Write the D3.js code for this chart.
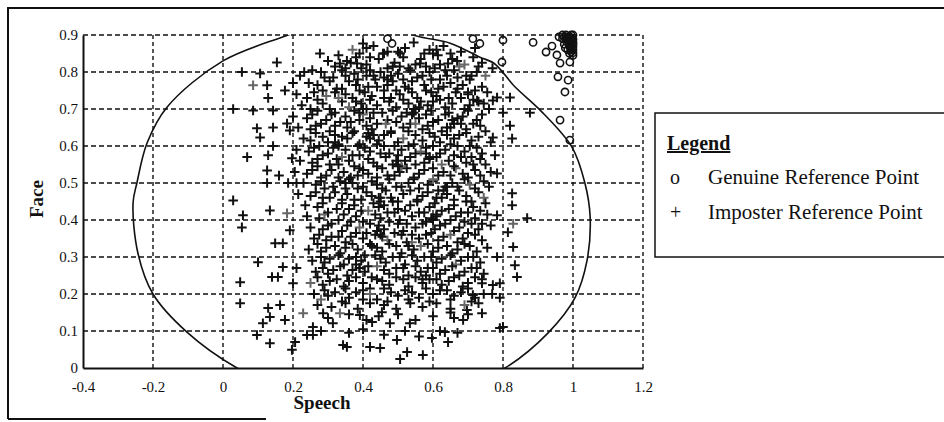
<!DOCTYPE html>
<html>
<head>
<meta charset="utf-8">
<script src="https://cdn.jsdelivr.net/npm/d3@7/dist/d3.min.js"></script>
<style>
body { margin: 0; background: #fff; }
text { font-family: "Liberation Serif", "Times New Roman", serif; fill: #111; }
</style>
</head>
<body>
<svg id="chart"></svg>
<script>
// tick values
var xTicks = [-0.4, -0.2, 0, 0.2, 0.4, 0.6, 0.8, 1, 1.2];
var yTicks = [0, 0.1, 0.2, 0.3, 0.4, 0.5, 0.6, 0.7, 0.8, 0.9];
var legendMarks = ["o", "+"];
var legendLabels = ["Genuine Reference Point", "Imposter Reference Point"];

// genuine reference points [speech, face]
var genuine = [
	[.47,.89],[.483,.877],[.714,.89],[.734,.877],[.80,.886],[.797,.827],[.886,.88],[.923,.854],
	[.94,.87],[.954,.846],[.963,.824],[.991,.827],[.957,.787],[.986,.778],[.977,.746],[.963,.67],
	[.991,.616],[1,.9],[.99,.895],[.98,.9],[.995,.885],[1,.875],[.985,.885],[.97,.89],[.99,.87],
	[1,.86],[.975,.875],[.985,.86],[1,.845],[.99,.85],[.96,.895],[.995,.865],[.978,.865],[1,.888],
	[.97,.9],[.975,.895],[.985,.895],[.995,.9],[.99,.885],[.98,.89],[1,.88],[.995,.875],[.99,.878],
	[1,.868],[.995,.855],[1,.852],[.993,.862],[.988,.892],[.982,.882],[.997,.892]
];

// imposter reference points [speech, face]
var imposter = [
	// sparse left / bottom / right / top edges
	[.277,.85],[.154,.826],[.334,.823],[.054,.80],[.106,.796],[.086,.764],[.126,.764],[.129,.73],
	[.177,.75],[.2,.77],[.029,.70],[.086,.696],[.143,.696],[.097,.648],[.143,.65],[.183,.661],
	[.106,.623],[.191,.642],[.143,.60],[.069,.57],[.129,.575],[.197,.567],[.126,.534],[.126,.50],
	[.186,.50],[.21,.50],[.029,.453],[.134,.426],[.183,.418],[.057,.413],[.054,.38],[.191,.372],
	[.149,.337],[.171,.337],[.10,.286],[.171,.273],[.14,.246],[.157,.246],[.21,.27],[.049,.232],
	[.20,.229],[.049,.175],[.129,.162],[.163,.17],[.134,.138],[.114,.121],[.177,.13],[.097,.089],
	[.134,.067],[.206,.07],[.197,.049],[.229,.148],[.257,.089],[.343,.062],[.506,.024],[.526,.043],
	[.571,.035],[.354,.057],[.42,.057],[.449,.054],[.597,.081],[.643,.07],[.634,.097],[.74,.148],
	[.791,.108],[.686,.13],[.697,.157],[.65,.15],[.477,.121],[.534,.121],[.497,.076],[.24,.089],
	[.257,.111],[.286,.148],[.334,.148],[.314,.121],[.391,.143],[.426,.124],[.454,.151],[.791,.19],
	[.769,.20],[.714,.197],[.74,.229],[.791,.229],[.783,.731],[.82,.731],[.80,.69],[.877,.69],
	[.82,.655],[.771,.623],[.826,.62],[.777,.575],[.783,.526],[.826,.472],[.826,.44],[.783,.413],
	[.869,.405],[.829,.39],[.814,.367],[.829,.327],[.783,.30],[.834,.278],[.84,.246],[.771,.224],
	[.80,.111],[.40,.877],[.42,.84],[.457,.85],[.506,.85],[.563,.823],[.614,.845],[.643,.823],
	[.70,.745],[.669,.83],[.771,.723],[.726,.723],[.354,.83],[.383,.823],[.232,.80],[.16,.52],
	// dense cloud
	[.37,.86],[.43,.87],[.47,.855],[.52,.865],[.545,.88],[.59,.86],[.63,.87],[.68,.855],[.72,.865],
	[.30,.83],[.33,.845],[.365,.825],[.38,.84],[.41,.82],[.445,.835],[.46,.85],[.49,.825],[.515,.84],
	[.55,.82],[.565,.835],[.60,.85],[.62,.82],[.655,.835],[.675,.815],[.715,.84],[.74,.825],[.77,.81],
	[.22,.79],[.255,.805],[.28,.80],[.315,.785],[.34,.805],[.375,.795],[.395,.81],[.43,.79],[.45,.80],
	[.485,.815],[.50,.795],[.535,.805],[.555,.785],[.59,.80],[.605,.81],[.64,.79],[.66,.805],[.695,.79],
	[.725,.80],[.75,.79],[.245,.77],[.27,.765],[.305,.775],[.325,.755],[.36,.775],[.38,.765],[.415,.76],
	[.435,.78],[.47,.765],[.485,.775],[.52,.76],[.54,.775],[.575,.765],[.595,.78],[.63,.76],[.65,.77],
	[.685,.765],[.705,.78],[.74,.76],[.21,.74],[.24,.73],[.26,.745],[.295,.735],[.32,.745],[.35,.74],
	[.37,.73],[.405,.745],[.425,.735],[.46,.75],[.48,.73],[.505,.74],[.54,.745],[.555,.73],[.595,.745],
	[.61,.735],[.645,.73],[.665,.745],[.70,.74],[.715,.725],[.755,.745],[.225,.71],[.25,.70],[.285,.715],
	[.305,.70],[.34,.72],[.36,.705],[.395,.715],[.41,.70],[.44,.71],[.475,.72],[.495,.705],[.53,.715],
	[.545,.70],[.585,.71],[.60,.72],[.635,.705],[.655,.715],[.69,.70],[.705,.71],[.745,.715],[.76,.70],
	[.20,.68],[.24,.675],[.255,.685],[.295,.67],[.31,.685],[.35,.68],[.365,.665],[.40,.685],[.42,.675],
	[.455,.69],[.47,.67],[.51,.68],[.525,.69],[.56,.675],[.58,.685],[.615,.67],[.635,.685],[.67,.675],
	[.685,.68],[.725,.67],[.74,.685],[.215,.65],[.25,.645],[.265,.655],[.305,.64],[.32,.655],[.355,.65],
	[.375,.64],[.41,.655],[.425,.645],[.465,.66],[.48,.64],[.515,.65],[.535,.66],[.57,.645],[.585,.655],
	[.625,.64],[.64,.65],[.68,.66],[.695,.645],[.735,.655],[.75,.64],[.23,.62],[.25,.615],[.285,.625],
	[.30,.61],[.34,.625],[.355,.62],[.39,.605],[.41,.625],[.445,.615],[.46,.63],[.50,.61],[.515,.62],
	[.55,.63],[.57,.615],[.605,.625],[.62,.61],[.66,.62],[.675,.63],[.71,.615],[.73,.625],[.765,.61],
	[.21,.59],[.245,.585],[.26,.595],[.30,.58],[.315,.595],[.35,.59],[.37,.575],[.405,.595],[.42,.585],
	[.46,.60],[.475,.58],[.51,.59],[.53,.60],[.565,.585],[.58,.595],[.62,.58],[.635,.59],[.67,.60],
	[.69,.585],[.725,.595],[.74,.58],[.22,.56],[.255,.555],[.27,.565],[.305,.55],[.325,.565],[.36,.56],
	[.375,.545],[.415,.565],[.43,.555],[.465,.57],[.485,.55],[.52,.56],[.535,.57],[.575,.555],[.59,.565],
	[.625,.55],[.645,.56],[.68,.57],[.695,.555],[.735,.565],[.75,.55],[.205,.53],[.24,.525],[.255,.535],
	[.295,.52],[.31,.535],[.345,.53],[.365,.515],[.40,.535],[.415,.525],[.455,.54],[.47,.52],[.505,.53],
	[.525,.54],[.56,.525],[.575,.535],[.615,.52],[.63,.53],[.665,.54],[.685,.525],[.72,.535],[.735,.52],
	[.765,.53],[.23,.50],[.265,.495],[.28,.505],[.315,.49],[.335,.505],[.37,.50],[.385,.485],[.425,.505],
	[.44,.495],[.475,.51],[.495,.49],[.53,.50],[.545,.51],[.585,.495],[.60,.505],[.635,.49],[.655,.50],
	[.69,.51],[.705,.495],[.745,.505],[.76,.49],[.215,.47],[.25,.465],[.265,.475],[.305,.46],[.32,.475],
	[.355,.47],[.375,.455],[.41,.475],[.425,.465],[.465,.48],[.48,.46],[.515,.47],[.535,.48],[.57,.465],
	[.585,.475],[.625,.46],[.64,.47],[.675,.48],[.695,.465],[.73,.475],[.745,.46],[.235,.44],[.27,.435],
	[.285,.445],[.325,.43],[.34,.445],[.375,.44],[.395,.425],[.43,.445],[.445,.435],[.485,.45],[.50,.43],
	[.535,.44],[.555,.45],[.59,.435],[.605,.445],[.645,.43],[.66,.44],[.695,.45],[.715,.435],[.75,.445],
	[.24,.41],[.275,.405],[.29,.415],[.33,.40],[.345,.415],[.38,.41],[.40,.395],[.435,.415],[.45,.405],
	[.49,.42],[.505,.40],[.54,.41],[.56,.42],[.595,.405],[.61,.415],[.65,.40],[.665,.41],[.70,.42],
	[.72,.405],[.755,.415],[.25,.38],[.285,.375],[.30,.385],[.34,.37],[.355,.385],[.39,.38],[.41,.365],
	[.445,.385],[.46,.375],[.50,.39],[.515,.37],[.55,.38],[.57,.39],[.605,.375],[.62,.385],[.66,.37],
	[.675,.38],[.71,.39],[.73,.375],[.765,.385],[.26,.35],[.295,.345],[.31,.355],[.35,.34],[.365,.355],
	[.40,.35],[.42,.335],[.455,.355],[.47,.345],[.51,.36],[.525,.34],[.56,.35],[.58,.36],[.615,.345],
	[.63,.355],[.67,.34],[.685,.35],[.72,.36],[.74,.345],[.245,.32],[.28,.315],[.295,.325],[.335,.31],
	[.35,.325],[.385,.32],[.405,.305],[.44,.325],[.455,.315],[.495,.33],[.51,.31],[.545,.32],[.565,.33],
	[.60,.315],[.615,.325],[.655,.31],[.67,.32],[.705,.33],[.725,.315],[.755,.325],[.255,.29],[.29,.285],
	[.305,.295],[.345,.28],[.36,.295],[.395,.29],[.415,.275],[.45,.295],[.465,.285],[.505,.30],[.52,.28],
	[.555,.29],[.575,.30],[.61,.285],[.625,.295],[.665,.28],[.68,.29],[.715,.30],[.735,.285],[.265,.26],
	[.30,.255],[.315,.265],[.355,.25],[.37,.265],[.405,.26],[.425,.245],[.46,.265],[.475,.255],[.515,.27],
	[.53,.25],[.565,.26],[.585,.27],[.62,.255],[.635,.265],[.675,.25],[.69,.26],[.725,.27],[.745,.255],
	[.25,.23],[.285,.225],[.305,.235],[.345,.22],[.36,.235],[.40,.23],[.42,.215],[.455,.235],[.475,.225],
	[.515,.24],[.53,.22],[.57,.23],[.59,.24],[.625,.225],[.645,.235],[.685,.22],[.70,.23],[.74,.24],
	[.26,.20],[.30,.195],[.32,.205],[.36,.19],[.38,.205],[.42,.20],[.44,.185],[.48,.205],[.50,.195],
	[.54,.205],[.56,.19],[.60,.20],[.62,.21],[.66,.195],[.68,.205],[.72,.19],[.745,.20],[.27,.17],
	[.31,.165],[.35,.175],[.385,.16],[.42,.175],[.46,.17],[.495,.16],[.535,.175],[.57,.165],[.61,.175],
	[.65,.16],[.69,.17],[.73,.175],[.30,.135],[.36,.145],[.41,.13],[.445,.14],[.50,.145],[.55,.13],
	[.60,.14],[.66,.135],[.70,.145],[.28,.10],[.36,.095],[.40,.105],[.46,.09],[.52,.10],[.56,.085],
	[.62,.10],[.67,.095],
	// clumps in the dense core
	[.42,.62],[.43,.63],[.415,.635],[.50,.55],[.51,.545],[.495,.56],[.55,.70],[.56,.705],[.545,.69],
	[.45,.45],[.46,.44],[.445,.46],[.60,.40],[.61,.41],[.38,.28],[.39,.27],[.47,.78],[.48,.79],
	[.40,.70],[.39,.69],[.58,.58],[.59,.57],[.35,.50],[.36,.51],[.65,.65],[.66,.66],[.53,.33],
	[.54,.34],[.44,.37],[.45,.36],[.63,.48],[.64,.49],[.33,.60],[.32,.61],[.57,.24],[.58,.25],
	// second layer, between the rows
	[.39,.85],[.41,.865],[.50,.855],[.575,.85],[.61,.86],[.65,.85],[.32,.815],[.35,.81],[.42,.805],
	[.47,.81],[.505,.815],[.53,.81],[.58,.815],[.635,.805],[.69,.82],[.73,.815],[.29,.785],[.35,.79],
	[.385,.78],[.41,.79],[.46,.785],[.515,.78],[.57,.79],[.62,.78],[.67,.785],[.71,.79],[.285,.75],
	[.34,.755],[.39,.75],[.44,.76],[.495,.75],[.53,.755],[.58,.75],[.615,.755],[.67,.755],[.72,.75],
	[.27,.725],[.33,.73],[.38,.72],[.42,.725],[.46,.73],[.515,.725],[.565,.72],[.62,.725],[.68,.73],
	[.73,.72],[.27,.695],[.32,.69],[.375,.695],[.43,.69],[.485,.695],[.54,.685],[.595,.695],[.645,.69],
	[.70,.695],[.28,.66],[.335,.665],[.39,.67],[.44,.66],[.495,.665],[.55,.66],[.60,.665],[.655,.67],
	[.715,.66],[.265,.635],[.32,.63],[.37,.635],[.43,.63],[.48,.635],[.53,.64],[.59,.635],[.64,.63],
	[.695,.635],[.275,.60],[.33,.605],[.385,.60],[.44,.605],[.49,.60],[.545,.605],[.60,.60],[.65,.605],
	[.705,.60],[.285,.575],[.34,.57],[.39,.575],[.45,.58],[.50,.575],[.55,.58],[.61,.57],[.66,.575],
	[.71,.57],[.27,.545],[.33,.55],[.39,.54],[.44,.545],[.50,.545],[.55,.55],[.60,.54],[.66,.545],
	[.715,.55],[.28,.515],[.33,.515],[.385,.52],[.44,.515],[.49,.52],[.545,.515],[.60,.51],[.65,.52],
	[.70,.515],[.29,.485],[.35,.485],[.40,.49],[.455,.485],[.51,.49],[.56,.485],[.615,.48],[.67,.49],
	[.72,.485],[.285,.46],[.34,.455],[.395,.455],[.45,.46],[.50,.45],[.555,.455],[.61,.46],[.66,.455],
	[.71,.45],[.30,.42],[.36,.43],[.415,.425],[.47,.42],[.52,.425],[.575,.42],[.625,.425],[.68,.42],
	[.735,.425],[.31,.39],[.365,.395],[.42,.39],[.475,.395],[.525,.39],[.58,.395],[.635,.39],[.69,.395],
	[.74,.39],[.275,.36],[.33,.355],[.38,.365],[.435,.36],[.49,.365],[.54,.36],[.595,.365],[.65,.36],
	[.70,.365],[.27,.335],[.32,.33],[.37,.335],[.425,.33],[.475,.335],[.53,.33],[.585,.335],[.64,.33],
	[.69,.335],[.28,.30],[.33,.305],[.38,.30],[.435,.305],[.485,.30],[.54,.305],[.595,.30],[.65,.305],
	[.70,.30],[.285,.27],[.335,.275],[.39,.27],[.44,.275],[.495,.27],[.55,.275],[.60,.27],[.655,.275],
	[.71,.27],[.27,.245],[.325,.24],[.38,.245],[.44,.24],[.495,.245],[.55,.245],[.61,.24],[.66,.245],
	[.72,.245],[.29,.21],[.35,.215],[.40,.21],[.46,.215],[.52,.21],[.58,.215],[.64,.21],[.70,.215],
	[.28,.185],[.34,.18],[.40,.185],[.47,.18],[.53,.185],[.59,.18],[.65,.185],[.71,.18]
];

// decision boundary
var boundary = [
	[0.37,0.97],[0.543,0.9],[0.649,0.878],[0.734,0.84],[0.775,0.823],[0.834,0.76],[0.906,0.697],
	[0.997,0.597],[1.034,0.50],[1.049,0.408],[1.04,0.29],[1.006,0.19],[0.929,0.095],[0.806,0.0],
	[0.42,-0.16],[0.04,0.0],[-0.103,0.097],[-0.2,0.2],[-0.243,0.31],[-0.257,0.446],[-0.246,0.5],
	[-0.217,0.608],[-0.16,0.705],[0,0.83],[0.2,0.905]
];

var w = 944;
var h = 422;
var margin = {
	left: 83,
	right: 301,
	top: 35,
	bottom: 54
}
var ink = "#111";

var svg = d3.select("#chart")
	.attr("width", w)
	.attr("height", h);

var xScale = d3.scaleLinear()
	.domain([-0.4, 1.2])
	.range([margin.left, w - margin.right]);
var yScale = d3.scaleLinear()
	.domain([0, 0.9])
	.range([h - margin.bottom, margin.top]);

function fmt(d) {
	return d === 0 ? "0" : String(+d.toFixed(1));
}

// outer frame of the figure
svg.append("path")
	.attr("d", "M8,419V8H944M8,419H266")
	.attr("fill", "none")
	.attr("stroke", ink)
	.attr("stroke-width", 2);

// dashed grid
svg.append("g")
	.selectAll("line")
	.data(xTicks.slice(1))
	.enter()
	.append("line")
	.attr("x1", function (d) { return xScale(d); })
	.attr("x2", function (d) { return xScale(d); })
	.attr("y1", yScale(0))
	.attr("y2", yScale(0.9))
	.attr("stroke", ink)
	.attr("stroke-width", 1.4)
	.attr("stroke-dasharray", "4,3");
svg.append("g")
	.selectAll("line")
	.data(yTicks.slice(1))
	.enter()
	.append("line")
	.attr("x1", xScale(-0.4))
	.attr("x2", xScale(1.2))
	.attr("y1", function (d) { return yScale(d); })
	.attr("y2", function (d) { return yScale(d); })
	.attr("stroke", ink)
	.attr("stroke-width", 1.4)
	.attr("stroke-dasharray", "5,3");

svg.append("clipPath")
	.attr("id", "plotClip")
	.append("rect")
	.attr("x", xScale(-0.4))
	.attr("y", yScale(0.9))
	.attr("width", xScale(1.2) - xScale(-0.4))
	.attr("height", yScale(0) - yScale(0.9));

// boundary curve
var line = d3.line()
	.x(function (d) { return xScale(d[0]); })
	.y(function (d) { return yScale(d[1]); })
	.curve(d3.curveCatmullRomClosed);
svg.append("path")
	.datum(boundary)
	.attr("d", line)
	.attr("clip-path", "url(#plotClip)")
	.attr("fill", "none")
	.attr("stroke", ink)
	.attr("stroke-width", 1.6);

// imposter points as plus signs
svg.append("g")
	.selectAll("path")
	.data(imposter)
	.enter()
	.append("path")
	.attr("d", "M-4.8,0H4.8M0,-4.8V4.8")
	.attr("transform", function (d) {
		return "translate(" + xScale(d[0]) + "," + yScale(d[1]) + ")";
	})
	.attr("stroke", function (d, i) { return i % 23 === 5 ? "#666" : ink; })
	.attr("stroke-width", 2)
	.attr("fill", "none");

// genuine points as circles
svg.append("g")
	.selectAll("circle")
	.data(genuine)
	.enter()
	.append("circle")
	.attr("cx", function (d) { return xScale(d[0]); })
	.attr("cy", function (d) { return yScale(d[1]); })
	.attr("r", 3.6)
	.attr("fill", "none")
	.attr("stroke", ink)
	.attr("stroke-width", 1.6);

// axes
var xAxis = d3.axisBottom(xScale)
	.tickValues(xTicks)
	.tickFormat(fmt)
	.tickSize(0)
	.tickSizeOuter(0)
	.tickPadding(13);
var yAxis = d3.axisLeft(yScale)
	.tickValues(yTicks)
	.tickFormat(fmt)
	.tickSize(0)
	.tickSizeOuter(0)
	.tickPadding(5);
var gx = svg.append("g")
	.classed("xAxis", true)
	.attr("transform", "translate(0," + yScale(0) + ")")
	.call(xAxis);
var gy = svg.append("g")
	.classed("yAxis", true)
	.attr("transform", "translate(" + xScale(-0.4) + ",0)")
	.call(yAxis);
[gx, gy].forEach(function (g) {
	g.attr("font-family", null).attr("font-size", 15);
	g.select(".domain").attr("stroke", ink).attr("stroke-width", 2);
});

// axis titles
svg.append("text")
	.attr("x", 322)
	.attr("y", 409)
	.attr("text-anchor", "middle")
	.attr("font-weight", "bold")
	.attr("font-size", 19)
	.text("Speech");
svg.append("text")
	.attr("transform", "translate(43,199) rotate(-90)")
	.attr("text-anchor", "middle")
	.attr("font-weight", "bold")
	.attr("font-size", 19)
	.text("Face");

// legend box
var legend = svg.append("g");
legend.append("rect")
	.attr("x", 655)
	.attr("y", 113)
	.attr("width", 300)
	.attr("height", 144)
	.attr("fill", "#fff")
	.attr("stroke", ink)
	.attr("stroke-width", 1.5);
legend.append("text")
	.attr("x", 667)
	.attr("y", 150)
	.attr("font-weight", "bold")
	.attr("font-size", 20)
	.attr("text-decoration", "underline")
	.text("Legend");
legend.selectAll(".mark")
	.data(legendMarks)
	.enter()
	.append("text")
	.classed("mark", true)
	.attr("x", 670)
	.attr("y", function (d, i) { return 184 + i * 35; })
	.attr("font-size", 20)
	.text(function (d) { return d; });
legend.selectAll(".label")
	.data(legendLabels)
	.enter()
	.append("text")
	.classed("label", true)
	.attr("x", 708)
	.attr("y", function (d, i) { return 184 + i * 35; })
	.attr("font-size", 21)
	.text(function (d) { return d; });
</script>
</body>
</html>
